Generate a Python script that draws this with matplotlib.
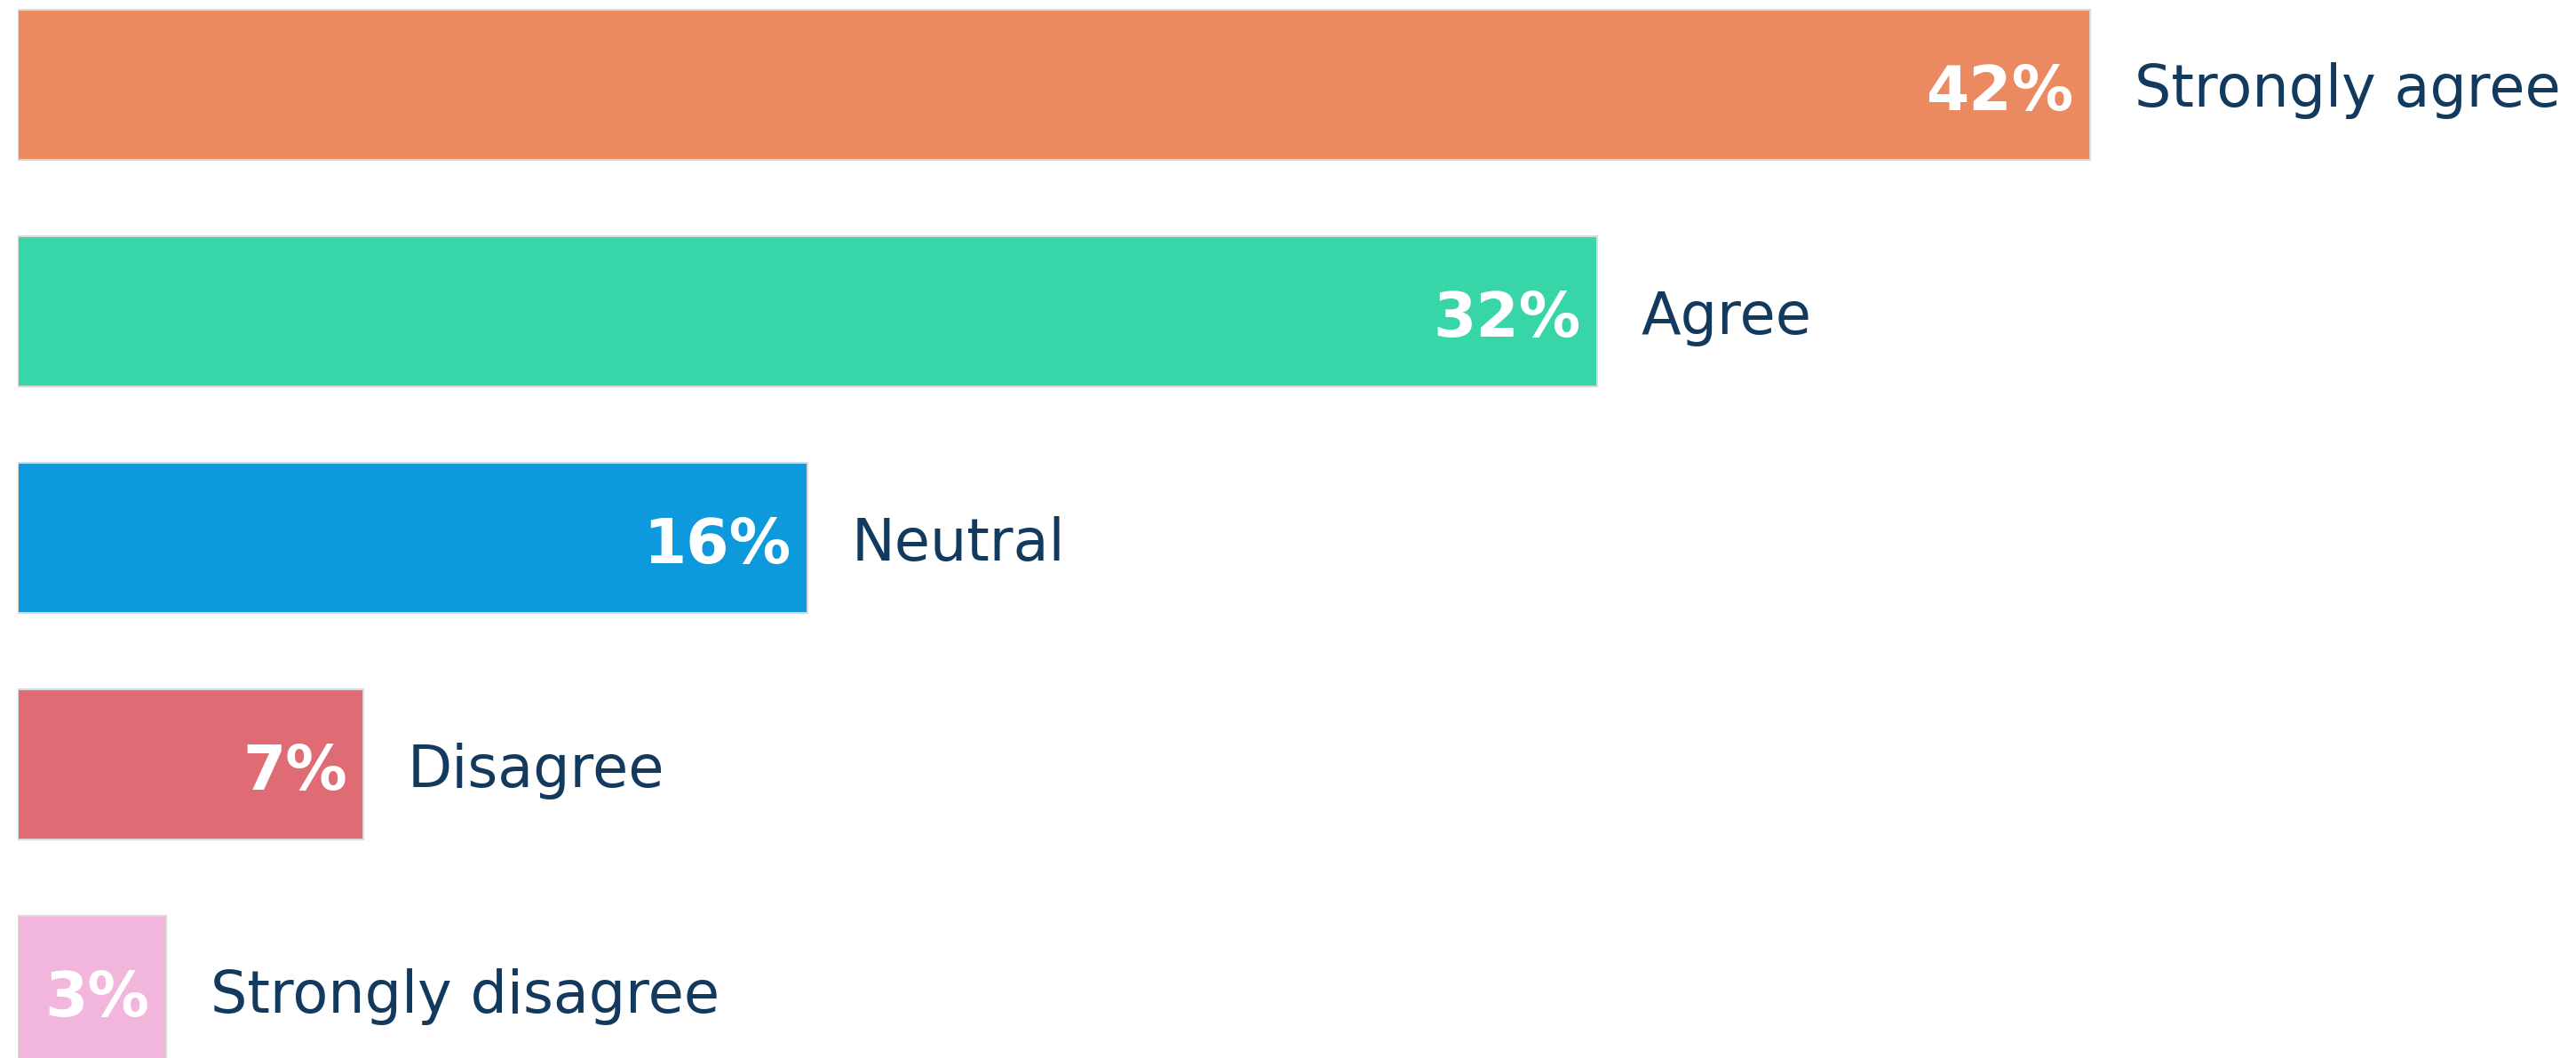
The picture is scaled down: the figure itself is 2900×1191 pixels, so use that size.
import matplotlib.pyplot as plt
from matplotlib.transforms import offset_copy

categories = ["Strongly agree", "Agree", "Neutral", "Disagree", "Strongly disagree"]
values = [42, 32, 16, 7, 3]
colors = ["#EB8A60", "#37D5A8", "#0D99DB", "#DF6C75", "#F2B5DB"]

TEXT = "#123A5E"

fig = plt.figure(figsize=(29, 11.91), dpi=100)
# axes start where the bars start; 55.55 px per percent point
ax = fig.add_axes([20 / 2900, 0, 1 - 20 / 2900, 1])
ax.set_xlim(0, 2880 / 55.55)
ax.set_ylim((1191 - 95.5) / 255, -95.5 / 255)
ax.axis("off")

ypos = list(range(len(values)))
ax.barh(ypos, values, height=169 / 255, color=colors,
        edgecolor="#D9D9D9", linewidth=1.5)

for y, v, cat in zip(ypos, values, categories):
    # value inside the bar, right aligned
    t_in = offset_copy(ax.transData, fig=fig, x=-18, y=-2, units="dots")
    ax.text(v, y, f"{v}%", transform=t_in, ha="right", va="center_baseline",
            color="white", fontsize=50, fontweight="bold", family="DejaVu Sans")
    # category label to the right of the bar
    t_out = offset_copy(ax.transData, fig=fig, x=50, y=0, units="dots")
    ax.text(v, y, cat, transform=t_out, ha="left", va="center_baseline",
            color=TEXT, fontsize=47, family="DejaVu Sans")

fig.savefig("out.png", dpi=100)
plt.close(fig)
